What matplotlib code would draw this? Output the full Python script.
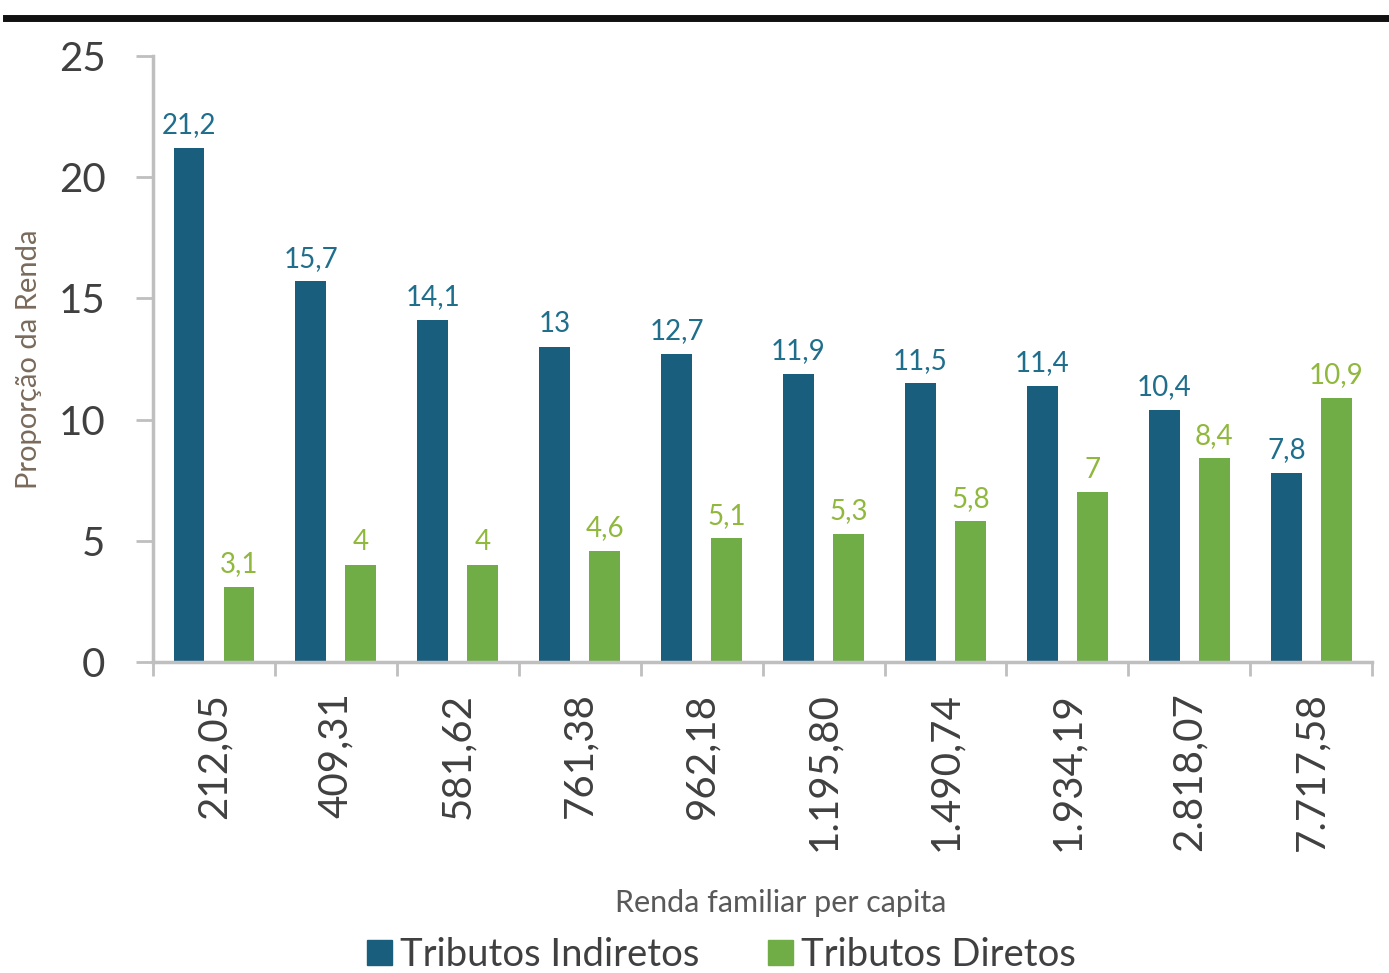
import matplotlib
matplotlib.use('Agg')
import matplotlib.pyplot as plt
from matplotlib.lines import Line2D
import numpy as np

plt.rcParams['font.family'] = ['Lato', 'DejaVu Sans']

# Renda familiar per capita (faixas) e proporção da renda paga em tributos
faixas = ['212,05', '409,31', '581,62', '761,38', '962,18',
          '1.195,80', '1.490,74', '1.934,19', '2.818,07', '7.717,58']
indiretos = [21.2, 15.7, 14.1, 13.0, 12.7, 11.9, 11.5, 11.4, 10.4, 7.8]
diretos = [3.1, 4.0, 4.0, 4.6, 5.1, 5.3, 5.8, 7.0, 8.4, 10.9]

cor_ind = '#1a5e7e'
cor_dir = '#70ad47'
cor_txt = '#404040'

def fmt(v):
    s = f'{v:.1f}'.replace('.', ',')
    return s[:-2] if s.endswith(',0') else s

fig = plt.figure(figsize=(13.89, 9.73), dpi=100)
ax = fig.add_axes([0.110, 0.3196, 0.878, 0.6228])

x = np.arange(len(faixas))
w = 0.25
b1 = ax.bar(x - 0.205, indiretos, w, color=cor_ind)
b2 = ax.bar(x + 0.205, diretos, w, color=cor_dir)

for bar, v in zip(b1, indiretos):
    ax.annotate(fmt(v), (bar.get_x() + bar.get_width() / 2, v), xytext=(0, 7),
                textcoords='offset points', ha='center', va='bottom',
                fontsize=20, color='#1f6e8c')
for bar, v in zip(b2, diretos):
    ax.annotate(fmt(v), (bar.get_x() + bar.get_width() / 2, v), xytext=(0, 7),
                textcoords='offset points', ha='center', va='bottom',
                fontsize=20, color='#8fb83c')

ax.set_xlim(-0.5, len(faixas) - 0.5)
ax.set_ylim(0, 25)
ax.set_yticks([0, 5, 10, 15, 20, 25])
ax.set_xticks(np.arange(len(faixas) + 1) - 0.5, minor=False)
ax.set_xticklabels([])
ax.set_xticks(x, minor=True)
ax.set_xticklabels(faixas, minor=True, rotation=90, fontsize=29, color=cor_txt)
ax.tick_params(axis='x', which='minor', length=0, pad=22)
ax.tick_params(axis='x', which='major', length=10, width=2, color='#bfbfbf')
ax.tick_params(axis='y', length=12, width=2, color='#bfbfbf', labelsize=29,
               labelcolor=cor_txt, pad=22)

for s in ['top', 'right']:
    ax.spines[s].set_visible(False)
for s in ['left', 'bottom']:
    ax.spines[s].set_color('#bfbfbf')
    ax.spines[s].set_linewidth(2.5)

ax.set_ylabel('Proporção da Renda', fontsize=21, color='#7a6a5c', labelpad=12)
fig.text(0.562, 0.072, 'Renda familiar per capita', fontsize=22, color='#595959',
         ha='center', va='center')

handles = [Line2D([], [], marker='s', ls='', markersize=18, color=cor_ind),
           Line2D([], [], marker='s', ls='', markersize=18, color=cor_dir)]
fig.legend(handles, ['Tributos Indiretos', 'Tributos Diretos'], loc='center',
           bbox_to_anchor=(0.51, 0.019), ncol=2, frameon=False, fontsize=27.5,
           handletextpad=-0.45, columnspacing=1.1, labelcolor=cor_txt,
           borderpad=0)

# filete preto no topo
fig.add_artist(Line2D([0.004, 1.0], [0.982, 0.982], color='#111111', lw=5,
                      transform=fig.transFigure))

fig.savefig('out.png', dpi=100)
